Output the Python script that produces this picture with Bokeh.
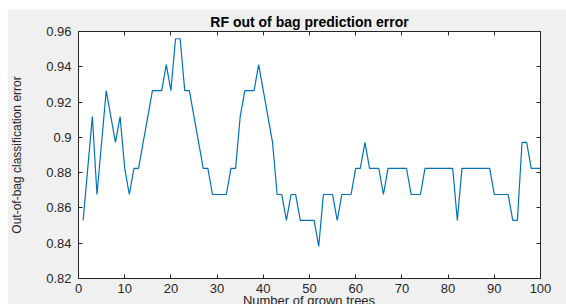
from bokeh.plotting import figure
from bokeh.models import Range1d, LinearAxis, FixedTicker, Div
from bokeh.layouts import column
from bokeh.embed import file_html
from bokeh.resources import INLINE

# ---- data ----
trees = list(range(1, 101))
oob_error = [
    0.8529, 0.8824, 0.9118, 0.8676, 0.8971, 0.9265, 0.9118, 0.8971, 0.9118, 0.8824,
    0.8676, 0.8824, 0.8824, 0.8971, 0.9118, 0.9265, 0.9265, 0.9265, 0.9412, 0.9265,
    0.9559, 0.9559, 0.9265, 0.9265, 0.9118, 0.8971, 0.8824, 0.8824, 0.8676, 0.8676,
    0.8676, 0.8676, 0.8824, 0.8824, 0.9118, 0.9265, 0.9265, 0.9265, 0.9412, 0.9265,
    0.9118, 0.8971, 0.8676, 0.8676, 0.8529, 0.8676, 0.8676, 0.8529, 0.8529, 0.8529,
    0.8529, 0.8382, 0.8676, 0.8676, 0.8676, 0.8529, 0.8676, 0.8676, 0.8676, 0.8824,
    0.8824, 0.8971, 0.8824, 0.8824, 0.8824, 0.8676, 0.8824, 0.8824, 0.8824, 0.8824,
    0.8824, 0.8676, 0.8676, 0.8676, 0.8824, 0.8824, 0.8824, 0.8824, 0.8824, 0.8824,
    0.8824, 0.8529, 0.8824, 0.8824, 0.8824, 0.8824, 0.8824, 0.8824, 0.8824, 0.8676,
    0.8676, 0.8676, 0.8676, 0.8529, 0.8529, 0.8971, 0.8971, 0.8824, 0.8824, 0.8824,
]
x_ticks = [0, 10, 20, 30, 40, 50, 60, 70, 80, 90, 100]
y_ticks = [0.82, 0.84, 0.86, 0.88, 0.90, 0.92, 0.94, 0.96]
y_tick_labels = ["0.82", "0.84", "0.86", "0.88", "0.9", "0.92", "0.94", "0.96"]
title_text = "RF out of bag prediction error"
x_label = "Number of grown trees"
y_label = "Out-of-bag classification error"

FONT = "Liberation Sans"
AX = "#262626"

p = figure(width=559, height=295, output_backend="svg", toolbar_location=None,
           x_range=Range1d(0, 100), y_range=Range1d(0.82, 0.96),
           min_border_left=71, min_border_right=26, min_border_top=21, min_border_bottom=26)
p.margin = (9, 0, 0, 7)
p.border_fill_color = "#f0f0f0"
p.background_fill_color = "white"
p.outline_line_color = AX
p.outline_line_width = 1
p.xgrid.visible = False
p.ygrid.visible = False

p.title.text = title_text
p.title.align = "center"
p.title.text_font = FONT
p.title.text_font_size = "14px"
p.title.text_font_style = "bold"
p.title.text_color = "black"
p.title.standoff = 4

p.line(trees, oob_error, line_color="#0072BD", line_width=1.2)

xt = FixedTicker(ticks=x_ticks)
yt = FixedTicker(ticks=y_ticks)
overrides = {t: s for t, s in zip(y_ticks, y_tick_labels)}

def style(ax, labels=True):
    ax.axis_line_color = AX
    ax.major_tick_line_color = AX
    ax.major_tick_in = 4
    ax.major_tick_out = 0
    ax.minor_tick_line_color = None
    ax.major_label_text_font = FONT
    if labels:
        ax.major_label_text_font_size = "13px"
        ax.major_label_text_color = AX
    else:
        ax.major_label_text_font_size = "1px"
        ax.major_label_text_color = None
        ax.major_label_standoff = 0

xa = p.xaxis[0]
xa.ticker = xt
style(xa)
xa.major_label_standoff = 5

ya = p.yaxis[0]
ya.ticker = yt
ya.major_label_overrides = overrides
style(ya)
ya.major_label_standoff = 7
ya.axis_label = y_label
ya.axis_label_text_font = FONT
ya.axis_label_text_font_size = "12px"
ya.axis_label_text_font_style = "normal"
ya.axis_label_text_color = AX
ya.axis_label_standoff = 19

top = LinearAxis(ticker=xt)
style(top, labels=False)
p.add_layout(top, "above")
right = LinearAxis(ticker=yt)
style(right, labels=False)
p.add_layout(right, "right")

# x-axis title: sits at the bottom edge of the window and is cut off, as in the reference
xlab = Div(text=x_label, width=462, height=11, margin=(-11, 0, 0, 78),
           styles={"overflow": "hidden", "font-family": FONT, "font-size": "13px",
                   "line-height": "15px", "color": AX, "text-align": "center",
                   "white-space": "nowrap"})

layout = column(p, xlab, spacing=0)

open("out.html", "w").write(file_html(layout, INLINE))
